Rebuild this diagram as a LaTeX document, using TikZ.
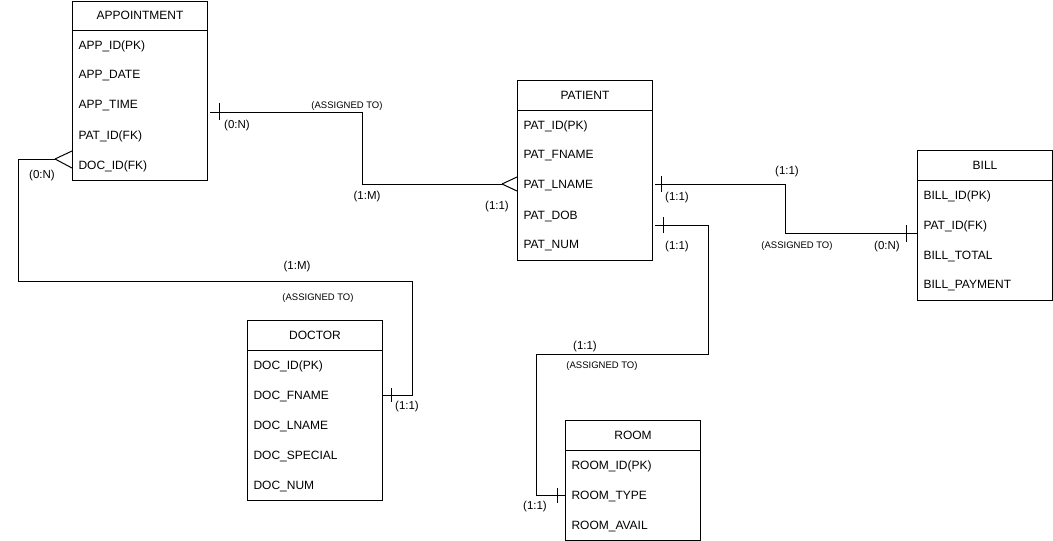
\documentclass[tikz,border=0pt]{standalone}
\usepackage{fontspec}
\setmainfont{Liberation Sans}
\usetikzlibrary{calc}
\begin{document}
\begin{tikzpicture}[x=1pt,y=-1pt,line width=1pt,
  ent/.style={draw,line width=1pt,minimum width=135pt,anchor=north west,inner sep=0pt},
  hdr/.style={font=\fontsize{12}{14}\selectfont,inner sep=0pt},
  row/.style={font=\fontsize{12}{14}\selectfont,anchor=west,inner sep=0pt,yshift=-2pt},
  card/.style={font=\fontsize{11.5}{13}\selectfont,inner sep=0pt,yshift=-1.5pt},
  rel/.style={font=\fontsize{9.5}{11}\selectfont,inner sep=0pt,yshift=-1pt},
  conn/.style={line width=1pt,line join=miter},
  tick/.style={line width=1pt}]
\useasboundingbox (0,0) rectangle (1053,541);

% ---------- APPOINTMENT ----------
\node[ent,minimum height=179pt] (app) at (72,1) {};
\draw ($(app.north west)+(0,29)$) -- ($(app.north east)+(0,29)$);
\node[hdr] (appH) at ($(app.north)+(0,14)$) {APPOINTMENT};
\node[row] (appR1) at ($(app.north west)+(6,43)$) {APP\_ID(PK)};
\node[row] (appR2) at ($(app.north west)+(6,73)$) {APP\_DATE};
\node[row] (appR3) at ($(app.north west)+(6,103)$) {APP\_TIME};
\node[row] (appR4) at ($(app.north west)+(6,133)$) {PAT\_ID(FK)};
\node[row] (appR5) at ($(app.north west)+(6,163)$) {DOC\_ID(FK)};

% ---------- PATIENT ----------
\node[ent,minimum height=180pt] (pat) at (517,80) {};
\draw ($(pat.north west)+(0,30)$) -- ($(pat.north east)+(0,30)$);
\node[hdr] (patH) at ($(pat.north)+(0,15)$) {PATIENT};
\node[row] (patR1) at ($(pat.north west)+(6,44)$) {PAT\_ID(PK)};
\node[row] (patR2) at ($(pat.north west)+(6,74)$) {PAT\_FNAME};
\node[row] (patR3) at ($(pat.north west)+(6,104)$) {PAT\_LNAME};
\node[row] (patR4) at ($(pat.north west)+(6,134)$) {PAT\_DOB};
\node[row] (patR5) at ($(pat.north west)+(6,164)$) {PAT\_NUM};

% ---------- BILL ----------
\node[ent,minimum height=150pt] (bill) at (917,150) {};
\draw ($(bill.north west)+(0,30)$) -- ($(bill.north east)+(0,30)$);
\node[hdr] (billH) at ($(bill.north)+(0,15)$) {BILL};
\node[row] (billR1) at ($(bill.north west)+(6,44)$) {BILL\_ID(PK)};
\node[row] (billR2) at ($(bill.north west)+(6,74)$) {PAT\_ID(FK)};
\node[row] (billR3) at ($(bill.north west)+(6,104)$) {BILL\_TOTAL};
\node[row] (billR4) at ($(bill.north west)+(6,134)$) {BILL\_PAYMENT};

% ---------- DOCTOR ----------
\node[ent,minimum height=180pt] (doc) at (247,320) {};
\draw ($(doc.north west)+(0,30)$) -- ($(doc.north east)+(0,30)$);
\node[hdr] (docH) at ($(doc.north)+(0,15)$) {DOCTOR};
\node[row] (docR1) at ($(doc.north west)+(6,44)$) {DOC\_ID(PK)};
\node[row] (docR2) at ($(doc.north west)+(6,74)$) {DOC\_FNAME};
\node[row] (docR3) at ($(doc.north west)+(6,104)$) {DOC\_LNAME};
\node[row] (docR4) at ($(doc.north west)+(6,134)$) {DOC\_SPECIAL};
\node[row] (docR5) at ($(doc.north west)+(6,164)$) {DOC\_NUM};

% ---------- ROOM ----------
\node[ent,minimum height=120pt] (room) at (565,420) {};
\draw ($(room.north west)+(0,30)$) -- ($(room.north east)+(0,30)$);
\node[hdr] (roomH) at ($(room.north)+(0,15)$) {ROOM};
\node[row] (roomR1) at ($(room.north west)+(6,44)$) {ROOM\_ID(PK)};
\node[row] (roomR2) at ($(room.north west)+(6,74)$) {ROOM\_TYPE};
\node[row] (roomR3) at ($(room.north west)+(6,104)$) {ROOM\_AVAIL};

% ---------- connector 1: APPOINTMENT -- PATIENT ----------
\coordinate (c1s) at (210,112);
\coordinate (c1a) at (362,112);
\coordinate (c1b) at (362,184);
\coordinate (c1f) at (502,184);
\draw[conn] (c1s) -- (c1a) -- (c1b) -- (c1f);
\draw[conn] (c1f) -- (pat.west |- 0,177);
\draw[conn] (c1f) -- (pat.west |- 0,191);
\draw[tick] (219,103) -- (219,120);
\node[rel] (l1a) at (347,105) {(ASSIGNED TO)};
\node[card] (l1b) at (237,124) {(0:N)};
\node[card] (l1c) at (367,195) {(1:M)};
\node[card] (l1d) at (497,205) {(1:1)};

% ---------- connector 2: APPOINTMENT -- DOCTOR ----------
\coordinate (c2f) at (55,159);
\coordinate (c2a) at (18,159);
\coordinate (c2b) at (18,281);
\coordinate (c2c) at (412,281);
\coordinate (c2d) at (412,395);
\draw[conn] (c2f) -- (c2a) -- (c2b) -- (c2c) -- (c2d) -- (doc.east |- c2d);
\draw[conn] (c2f) -- (app.west |- 0,151);
\draw[conn] (c2f) -- (app.west |- 0,168);
\draw[tick] (391,388) -- (391,402);
\node[card] (l2a) at (42,174) {(0:N)};
\node[card] (l2b) at (297,265) {(1:M)};
\node[rel] (l2c) at (318,297) {(ASSIGNED TO)};
\node[card] (l2d) at (407,405) {(1:1)};

% ---------- connector 3: PATIENT -- BILL ----------
\coordinate (c3s) at (655,184);
\coordinate (c3a) at (785,184);
\coordinate (c3b) at (785,233);
\draw[conn] (c3s) -- (c3a) -- (c3b) -- (bill.west |- c3b);
\draw[tick] (661,176) -- (661,192);
\draw[tick] (906,225) -- (906,242);
\node[card] (l3a) at (787,170) {(1:1)};
\node[card] (l3b) at (677,196) {(1:1)};
\node[rel] (l3c) at (797,245) {(ASSIGNED TO)};
\node[card] (l3d) at (887,245) {(0:N)};

% ---------- connector 4: PATIENT -- ROOM ----------
\coordinate (c4s) at (655,225);
\coordinate (c4a) at (708,225);
\coordinate (c4b) at (708,354);
\coordinate (c4c) at (536,354);
\coordinate (c4d) at (536,495);
\draw[conn] (c4s) -- (c4a) -- (c4b) -- (c4c) -- (c4d) -- (room.west |- c4d);
\draw[tick] (663,217) -- (663,233);
\draw[tick] (557,488) -- (557,503);
\node[card] (l4a) at (677,245) {(1:1)};
\node[card] (l4b) at (585,345) {(1:1)};
\node[rel] (l4c) at (602,365) {(ASSIGNED TO)};
\node[card] (l4d) at (535,505) {(1:1)};
\end{tikzpicture}
\end{document}
